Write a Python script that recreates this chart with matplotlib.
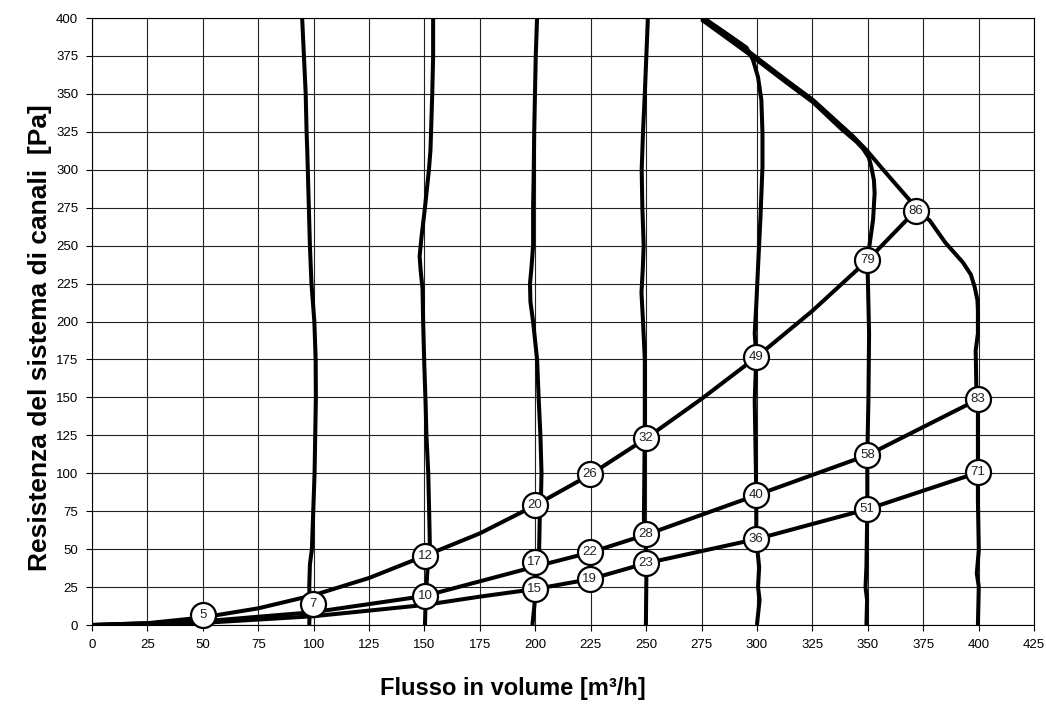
import matplotlib
matplotlib.use('Agg')
import matplotlib.pyplot as plt

plt.rcParams['font.family'] = ['Liberation Sans', 'DejaVu Sans']

# fan curves (flow m3/h, pressure Pa)
fan100_q = [94.8, 95.6, 96.4, 96.8, 97.1, 98.3, 99.0, 100.3, 100.9, 101.0, 100.7, 100.4, 99.8, 99.2, 98.3, 98.0, 98.3, 98.0]
fan100_p = [400, 375, 350, 325, 313, 250, 225, 200, 175, 150, 125, 100, 75, 50, 40, 25, 14, 0]

fan150_q = [153.9, 153.9, 153.5, 152.7, 152.0, 150.2, 148.6, 147.8, 148.3, 149.1, 149.4, 149.9, 150.5, 150.9, 151.7, 152.1, 152.4, 151.5, 150.6, 150.2]
fan150_p = [400, 375, 350, 313, 300, 275, 255, 243, 233, 222, 199, 172, 146, 124, 100, 75, 54, 40, 19, 0]

fan200_q = [200.8, 200.2, 199.5, 199.3, 199.0, 199.0, 198.3, 197.6, 197.8, 199.0, 200.8, 201.5, 202.3, 202.8, 202.5, 202.0, 201.7, 200.5, 199.8, 198.7]
fan200_p = [400, 375, 325, 300, 275, 250, 236, 225, 213, 200, 175, 150, 125, 100, 80, 70, 47, 30, 16, 0]

fan250_q = [250.8, 250.1, 249.4, 248.6, 248.0, 248.3, 248.9, 248.5, 247.9, 248.6, 249.4, 249.4, 249.2, 249.0, 249.8, 250.0, 250.1, 249.9]
fan250_p = [400, 375, 350, 325, 300, 275, 250, 235, 219, 200, 175, 135, 100, 70, 60, 40, 30, 0]

fan300_q = [275, 285, 295.3, 298.2, 300.5, 302.0, 302.5, 302.5, 301.6, 300.5, 299.8, 299.0, 299.7, 299.0, 299.5, 299.7, 299.7, 301.0, 300.5, 301.2, 300.0]
fan300_p = [401, 391, 380.5, 372.5, 361, 346, 324, 302, 269, 236, 214, 192, 177, 148, 104, 86, 57, 38, 25, 16.5, 0]

fan350_q = [275, 295.3, 313.3, 325.3, 338.0, 344.8, 347.8, 350.5, 351.6, 352.8, 353.1, 352.4, 350.9, 349.8, 350.1, 350.6, 350.3, 349.8, 349.8, 349.4, 349.0, 349.7, 349.4]
fan350_p = [399, 377.5, 357.5, 344.5, 327, 318.6, 314, 308, 302, 293, 284.5, 267, 251.5, 240.5, 225, 192, 148, 112, 76.4, 38.4, 25, 16.5, 0]

fan400_q = [275, 295.3, 313.3, 325.3, 343.4, 349.4, 358.4, 368.9, 371.6, 377.9, 385.0, 392.9, 396.5, 398.2, 399.5, 399.7, 399.7, 398.7, 399.0, 399.7, 399.7, 399.7, 400.1, 399.2, 400.1, 399.7]
fan400_p = [400, 379, 359, 346, 322, 313, 297.6, 280, 273, 266.7, 252, 239, 231, 223, 214, 207.6, 192, 181, 157, 148.9, 100.6, 82.4, 49.4, 34, 25.2, 0]

# duct system curves
sysA_q = [0, 25, 50, 75, 100, 125, 150, 175, 200, 225, 250, 275, 300, 325, 350, 371.6]
sysA_p = [0, 1.2, 5, 11, 19.7, 31, 45.5, 60.4, 78.9, 99.3, 123, 149, 176.8, 207, 240.5, 273]

sysB_q = [0, 50, 100, 150, 200, 225, 250, 300, 350, 400]
sysB_p = [0, 2.4, 8.5, 19.1, 38.5, 47.9, 59.5, 85.7, 112, 148.9]

sysC_q = [0, 50, 100, 150, 175, 200, 225, 250, 300, 350, 400]
sysC_p = [0, 1.4, 5.8, 13.2, 18.7, 23.7, 30.3, 40.7, 56.7, 76.4, 100.6]

# operating points with their labels
mark_q = [49.9, 99.8, 150.2, 150.2, 199.8, 199.8, 199.8, 224.6, 224.6, 224.6, 249.8, 249.8, 249.8,
          299.7, 299.7, 299.7, 349.8, 349.8, 349.8, 371.6, 399.7, 399.7]
mark_p = [6.4, 13.8, 45.5, 19.1, 78.9, 41.3, 23.7, 99.3, 47.9, 30.3, 123, 60, 40.7,
          176.8, 85.7, 56.7, 240.5, 112, 76.4, 273, 148.9, 100.6]
mark_lbl = ['5', '7', '12', '10', '20', '17', '15', '26', '22', '19', '32', '28', '23',
            '49', '40', '36', '79', '58', '51', '86', '83', '71']

xticks = list(range(0, 426, 25))
yticks = list(range(0, 401, 25))

fig = plt.figure(figsize=(10.46, 7.04), dpi=100)
ax = fig.add_axes([0.088, 0.1122, 0.9005, 0.8622])

lw = 2.9
curves = [(fan100_q, fan100_p), (fan150_q, fan150_p), (fan200_q, fan200_p), (fan250_q, fan250_p),
          (fan300_q, fan300_p), (fan350_q, fan350_p), (fan400_q, fan400_p),
          (sysA_q, sysA_p), (sysB_q, sysB_p), (sysC_q, sysC_p)]
for q, p in curves:
    ax.plot(q, p, color='black', lw=lw, solid_joinstyle='round', solid_capstyle='butt', zorder=3)

ax.plot(mark_q, mark_p, 'o', ms=18, mfc='white', mec='black', mew=1.6, zorder=4, clip_on=False)
for q, p, t in zip(mark_q, mark_p, mark_lbl):
    ax.text(q, p, t, ha='center', va='center', fontsize=9.5, color='#222222', zorder=5)

ax.set_xlim(0, 425)
ax.set_ylim(0, 400)
ax.set_xticks(xticks)
ax.set_yticks(yticks)
ax.tick_params(labelsize=9.5, length=4, width=0.8, pad=6, colors='black')
ax.grid(True, color='#222222', lw=0.8)
ax.set_axisbelow(True)
for s in ax.spines.values():
    s.set_linewidth(0.8)

fig.text(0.038, 0.521, 'Resistenza del sistema di canali  [Pa]', rotation=90,
         ha='center', va='center', fontsize=19, fontweight='bold')
fig.text(0.490, 0.022, 'Flusso in volume [m³/h]', ha='center', va='center',
         fontsize=17, fontweight='bold')

fig.savefig('out.png', dpi=100)
